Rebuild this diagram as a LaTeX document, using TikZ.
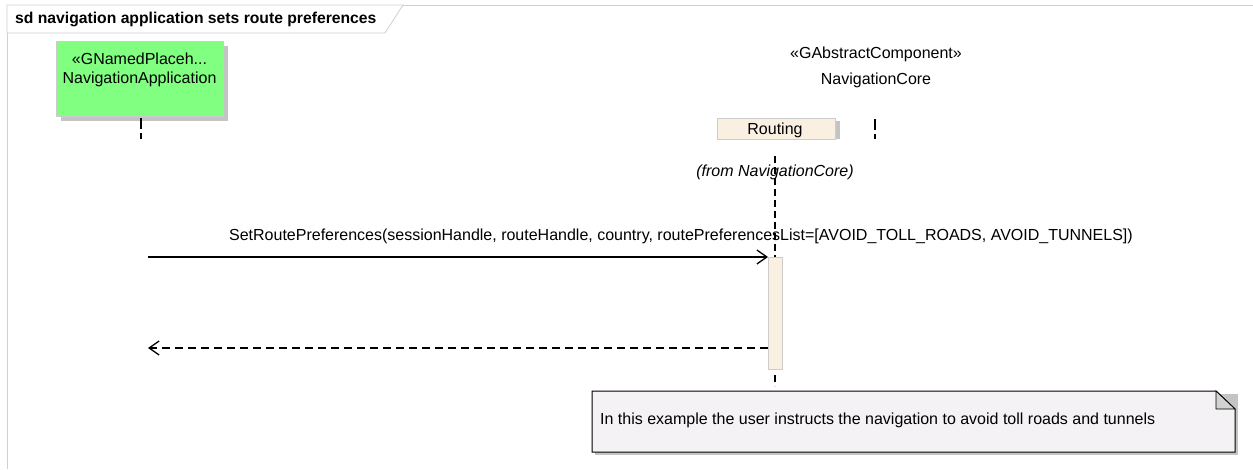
\documentclass[tikz,border=0pt]{standalone}
\usepackage{fontspec}
\setmainfont{Liberation Sans}
\usetikzlibrary{arrows.meta}
\definecolor{appgreen}{HTML}{80FF80}
\definecolor{beige}{HTML}{FAF0E2}
\definecolor{notefill}{HTML}{F5F2F6}
\definecolor{shadowgray}{HTML}{C4C4C4}
\definecolor{framegray}{HTML}{D0D0D0}
\begin{document}
\begin{tikzpicture}[x=1pt,y=-1pt,
  lbl/.style={inner sep=0pt, font=\fontsize{16}{18}\selectfont},
  lifeline/.style={draw=black, line width=1.2pt, dash pattern=on 7pt off 4pt},
  msg/.style={draw=black, line width=1.3pt, -{Straight Barb[length=10pt,width=14pt,line width=1.3pt]}},
  ret/.style={draw=black, line width=1.3pt, dash pattern=on 8pt off 5pt, -{Straight Barb[length=10pt,width=14pt,line width=1.3pt]}}]
\useasboundingbox (0,0) rectangle (1253,469);
\fill[white] (0,0) rectangle (1253,469);
% frame
\draw[framegray, line width=1pt] (1253,5) -- (7,5) -- (7,469);
\draw[framegray, line width=0.8pt, fill=white] (7,5) -- (403,5) -- (385,33) -- (7,33) -- cycle;
\node[lbl, anchor=west, font=\fontsize{15.7}{18}\selectfont\bfseries] (title) at (15,19) {sd navigation application sets route preferences};
% NavigationApplication
\fill[shadowgray] (61,46) rectangle (228,121);
\node[draw=gray!40, fill=appgreen, minimum width=167pt, minimum height=75pt, inner sep=0pt, anchor=north west] (app) at (56,41) {};
\node[lbl] (appst) at (139.5,59) {«GNamedPlaceh...};
\node[lbl] (appname) at (139.5,79) {NavigationApplication};
\coordinate (appl1) at (141,118);
\coordinate (appl2) at (141,139);
\draw[lifeline, dash pattern=on 11pt off 4pt] (appl1) -- (appl2);
% NavigationCore
\node[lbl] (corest) at (876,54) {«GAbstractComponent»};
\node[lbl] (corename) at (876,80) {NavigationCore};
\coordinate (corel1) at (875,119);
\coordinate (corel2) at (875,139);
\draw[lifeline, dash pattern=on 11pt off 4pt] (corel1) -- (corel2);
% Routing
\fill[shadowgray] (720,121) rectangle (840,139);
\node[draw=gray!40, fill=beige, minimum width=118pt, minimum height=21pt, inner sep=0pt, anchor=north west] (routing) at (717,118) {};
\node[lbl] (routlbl) at (775,130) {Routing};
\node[lbl, font=\fontsize{16}{18}\selectfont\itshape] (from) at (775,172) {(from NavigationCore)};
\coordinate (rl1) at (775,156);
\coordinate (rl2) at (775,257);
\draw[lifeline] (rl1) -- (rl2);
% activation
\node[draw=gray!40, fill=beige, minimum width=14pt, minimum height=112pt, inner sep=0pt, anchor=north west] (act) at (768,257) {};
\coordinate (rl3) at (775,375);
\coordinate (rl4) at (775,386);
\draw[lifeline] (rl3) -- (rl4);
% messages
\coordinate (m1s) at (148,257);
\draw[msg] (m1s) -- (act.north west);
\node[lbl] (m1lbl) at (681,236) {SetRoutePreferences(sessionHandle, routeHandle, country, routePreferencesList=[AVOID\_TOLL\_ROADS, AVOID\_TUNNELS])};
\coordinate (m2e) at (148,348);
\draw[ret] (act.west |- m2e) -- (m2e);
% note
\fill[shadowgray] (595,394) -- (1238,394) -- (1238,455) -- (595,455) -- cycle;
\draw[black, line width=1pt, fill=notefill] (592,391) -- (1216,391) -- (1235,409) -- (1235,452) -- (592,452) -- cycle;
\draw[black, line width=0.8pt, fill=gray!35] (1216,391) -- (1216,409) -- (1235,409) -- cycle;
\node[lbl, anchor=west] (note) at (600,420) {In this example the user instructs the navigation to avoid toll roads and tunnels};
\end{tikzpicture}
\end{document}
